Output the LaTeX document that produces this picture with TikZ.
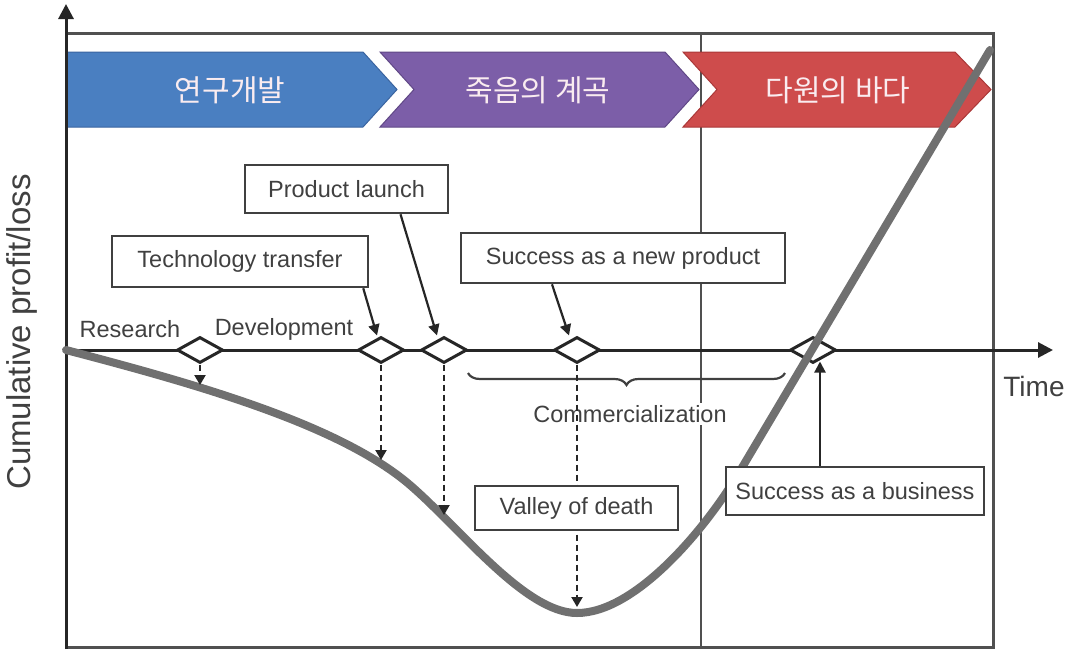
\documentclass[tikz,border=0pt]{standalone}
\usepackage{fontspec}
\setmainfont{Liberation Sans}
\newfontfamily\kofont{Noto Sans CJK KR}
\usetikzlibrary{arrows.meta,decorations.pathreplacing,shapes.geometric}

\definecolor{rdblue}{RGB}{74,127,193}
\definecolor{rdblueedge}{RGB}{58,100,160}
\definecolor{vdpurple}{RGB}{124,94,168}
\definecolor{vdpurpleedge}{RGB}{96,72,134}
\definecolor{seared}{RGB}{206,76,76}
\definecolor{searededge}{RGB}{170,56,56}
\definecolor{chevtext}{RGB}{250,236,240}
\definecolor{inkgray}{RGB}{64,64,64}
\definecolor{curvegray}{RGB}{112,112,112}
\definecolor{framegray}{RGB}{80,80,80}

\begin{document}
\begin{tikzpicture}[x=1pt,y=-1pt,
  labelbox/.style={draw=inkgray, line width=2.5pt, fill=white, text=inkgray,
    font=\fontsize{23.5}{26}\selectfont, inner sep=0pt},
  plaintext/.style={text=inkgray, font=\fontsize{23.5}{26}\selectfont, inner sep=1pt},
  milestone/.style={shape=diamond, draw=black!85, line width=3pt, fill=white,
    minimum width=46pt, minimum height=26pt, inner sep=0pt},
  chevlabel/.style={text=chevtext, font=\kofont\fontsize{30}{33}\selectfont},
  axisline/.style={draw=black!85, line width=3pt},
  framelines/.style={draw=framegray, line width=3pt},
  pointer/.style={draw=black!85, line width=2.2pt, -{Triangle[length=11pt,width=11pt]}},
  droparrow/.style={draw=black!85, line width=2.2pt, dash pattern=on 6pt off 4pt,
    -{Triangle[length=10pt,width=11pt]}},
  profitcurve/.style={draw=curvegray, line width=8pt, line cap=round},
  bracket/.style={draw=inkgray, line width=2.2pt, decorate,
    decoration={brace, amplitude=12pt}}
]
\useasboundingbox (0,0) rectangle (1069,649);

% frame and the dividing line between the phases
\draw[framelines] (66,33) -- (993,33) -- (993,647) -- (66,647);
\draw[framegray, line width=2.5pt] (701,33) -- (701,647);

% phase chevrons
\draw[fill=rdblue, draw=rdblueedge, line width=1pt]
  (66,52) -- (363,52) -- (397,89.5) -- (363,127) -- (66,127) -- cycle;
\draw[fill=vdpurple, draw=vdpurpleedge, line width=1pt]
  (380,52) -- (665,52) -- (699,89.5) -- (665,127) -- (380,127) -- (414,89.5) -- cycle;
\draw[fill=seared, draw=searededge, line width=1pt]
  (683,52) -- (955,52) -- (991,89.5) -- (955,127) -- (683,127) -- (717,89.5) -- cycle;
\node[chevlabel] (phase1) at (230,90) {연구개발};
\node[chevlabel] (phase2) at (538,90) {죽음의 계곡};
\node[chevlabel] (phase3) at (838,90) {다원의 바다};

% axes
\draw[axisline, -{Triangle[length=15pt,width=15pt]}] (66,649) -- (66,4);
\draw[axisline, -{Triangle[length=15pt,width=15pt]}] (66,350) -- (1053,350);
\node[text=inkgray, font=\fontsize{28}{30}\selectfont] (time) at (1034,386) {Time};
\node[text=inkgray, font=\fontsize{33}{36}\selectfont, rotate=90] (ylab) at (22,332)
  {Cumulative profit/loss};

% milestones on the time axis
\node[milestone] (d1) at (200,350) {};
\node[milestone] (d2) at (381,350) {};
\node[milestone] (d3) at (444,350) {};
\node[milestone] (d4) at (577,350) {};
\node[milestone] (d5) at (813,350) {};

\node[plaintext] (research) at (130,329) {Research};
\node[plaintext] (develop) at (284,329) {Development};

% commercialization bracket
\coordinate (brR) at (785,373);
\coordinate (brL) at (468,373);
\draw[bracket] (brR) -- (brL);
\node[plaintext, fill=white, inner sep=2pt] (comm) at (630,414) {Commercialization};

% cumulative profit/loss curve
\draw[profitcurve] (66,350) .. controls (200,385) and (340,425) .. (410,485)
  .. controls (460,528) and (525,613) .. (577,613)
  .. controls (635,613) and (705,530) .. (740,471)
  -- (990,50);

% points on the curve reached by the drop arrows
\coordinate (c1) at (200,385);
\coordinate (c2) at (381,460);
\coordinate (c3) at (444,515);
\coordinate (c4) at (577,607);

\draw[droparrow] (d1.south) -- (c1);
\draw[droparrow] (d2.south) -- (c2);
\draw[droparrow] (d3.south) -- (c3);
\draw[droparrow] (d4.south) -- (c4);

% callout boxes
\node[labelbox, minimum width=256pt, minimum height=51pt] (tt) at (240,261.5) {Technology transfer};
\node[labelbox, minimum width=203pt, minimum height=48pt] (pl) at (346.5,189) {Product launch};
\node[labelbox, minimum width=324pt, minimum height=50pt] (snp) at (623,258) {Success as a new product};
\node[labelbox, minimum width=203pt, minimum height=44pt] (vod) at (576.5,508) {Valley of death};
\node[labelbox, minimum width=258pt, minimum height=48pt] (sab) at (855,491) {Success as a business};

\draw[pointer] ([xshift=-6pt]tt.south east) -- ([xshift=-4pt]d2.north);
\draw[pointer] ([xshift=54pt]pl.south) -- ([xshift=-7pt]d3.north);
\draw[pointer] ([xshift=-71pt]snp.south) -- ([xshift=-8pt]d4.north);
\draw[pointer] ([xshift=-35pt]sab.north) -- ([xshift=7pt,yshift=3pt]d5.south);
\end{tikzpicture}
\end{document}
